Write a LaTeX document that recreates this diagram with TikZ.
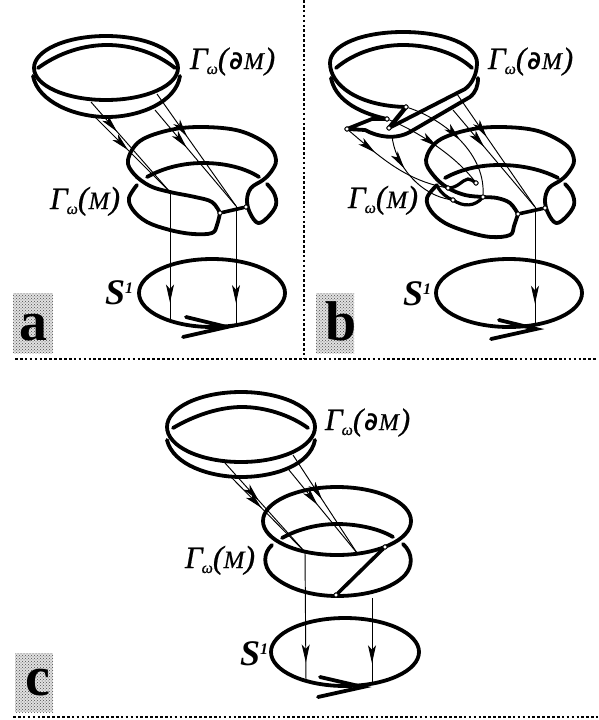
\documentclass[tikz,border=0pt]{standalone}
\usepackage{fontspec}
\setmainfont{Liberation Serif}
\newfontfamily\delfont{DejaVu Sans}
\newfontfamily\gfont{Liberation Serif}[ItalicFeatures={FakeBold=0.6}]
\usetikzlibrary{arrows.meta,decorations.markings,patterns}
\newcommand{\fsz}[1]{\fontsize{#1}{#1}\selectfont}
\newcommand{\gmpart}{\gfont\itshape\fsz{31}Γ\hspace{-1pt}\raisebox{-5pt}{\fsz{16}ω}}
\newcommand{\gbd}{{\gmpart\fsz{31}(\hspace{1pt}{\delfont\bfseries\upshape\fsz{25}∂}\hspace{1pt}{\fsz{24}M}\hspace{1pt})}}
\newcommand{\gm}{{\gmpart\fsz{32}({\fsz{25}M})}}
\newcommand{\sone}{{\bfseries\itshape\fsz{36}S\raisebox{11pt}{\fsz{16}1}}}
\tikzset{
  x=1pt,y=-1pt,
  ring/.style={line width=3.8pt,line cap=round,line join=round},
  bar/.style={line width=3.6pt,line cap=round},
  ray/.style={line width=0.95pt},
  headat/.style={postaction={decorate},decoration={markings,
    mark=at position #1 with {\arrow{Stealth[length=18pt,width=8pt,inset=4.5pt]}}}},
  dot/.style={circle,draw,fill=white,line width=0.9pt,inner sep=0pt,minimum size=4.2pt},
  lab/.style={anchor=base west,inner sep=0pt,outer sep=0pt},
  dotline/.style={line width=2.8pt,dash pattern=on 2.6pt off 2.3pt},
  chip/.style={fill=black!12,postaction={pattern=crosshatch dots,pattern color=black!70},draw=none},
  letter/.style={anchor=base west,inner sep=0pt,font=\bfseries\fsz{56}},
}
\begin{document}
\begin{tikzpicture}
\useasboundingbox (0,0) rectangle (598,720);
\fill[white] (0,0) rectangle (598,720);
% separators
\coordinate (vt) at (304,0); \coordinate (vb) at (304,358);
\coordinate (ha) at (15,359); \coordinate (hb) at (598,359);
\coordinate (ka) at (13,717); \coordinate (kb) at (598,717);
\draw[dotline] (vt) -- (vb);
\draw[dotline] (ha) -- (hb);
\draw[dotline] (ka) -- (kb);

% ---------- panel a
\fill[chip] (13,293) rectangle (53,353);
\node[letter] (la) at (19,340) {a};
\draw[ring] (106,68) ellipse [x radius=72pt,y radius=32pt];
\draw[ring] (33,76) .. controls (38,102) and (75,117) .. (107,117) .. controls (140,117) and (176,102) .. (180,76);
\draw[ring] (38,68) .. controls (60,52) and (85,45) .. (107,45) .. controls (130,45) and (155,52) .. (175,68);
\node[lab] (ta1) at (190,69) {\gbd};
\node[lab] (ta2) at (50,209) {\gm};
\node[lab] (ta3) at (105,304) {\sone};
\draw[ring] (147,177) .. controls (165,167) and (185,163) .. (203,163) .. controls (225,163) and (245,168) .. (259,177);
\node[dot] (ae) at (220,213) {};
\node[dot] (af) at (246,207) {};
\draw[ring] plot[smooth,tension=.6] coordinates {(220,213) (212,202) (195,197) (170,192) (150,186) (134,174) (128,160) (140,141) (170,130) (203,127) (240,131) (268,145) (276,160) (271,172) (263,180) (251,188) (247,200) (250,213) (258,223) (268,217) (276,205) (274,193) (267,184)};
\draw[ring] plot[smooth,tension=.6] coordinates {(220,213) (217,225) (212,233) (193,234) (170,230) (147,222) (133,210) (129,198) (137,185)};
\draw[bar] (ae) -- (af);
\node[dot] at (ae) {}; \node[dot] at (af) {};
\coordinate (aJ) at (170,192); \coordinate (aK) at (236,206);
\coordinate (as1) at (91,102); \coordinate (as2) at (95,117);
\coordinate (as3) at (157,94); \coordinate (as4) at (155,110);
\coordinate (aL) at (170,322); \coordinate (aM) at (236,323);
\draw[ray,headat=.33] (as1) -- (aJ);
\draw[ray,headat=.44] (as2) -- (aJ);
\draw[ray,headat=.38] (as3) -- (aK);
\draw[ray,headat=.39] (as4) -- (aK);
\draw[ray,headat=.85] (aJ) -- (aL);
\draw[ray,headat=.83] (aK) -- (aM);
\draw[ring] (212,293) ellipse [x radius=73pt,y radius=34pt];
\draw[line width=3.8pt,line cap=round,line join=miter] (186,317) -- (227,327) -- (183,337);

% ---------- panel b
\fill[chip] (316,293) rectangle (354,353);
\node[letter] (lb) at (325,340) {b};
\node[lab] (tb1) at (488,69) {\gbd};
\node[lab] (tb2) at (348,208) {\gm};
\node[lab] (tb3) at (403,305) {\sone};
\node[dot] (n1) at (406,107) {};
\node[dot] (n2) at (387,119) {};
\node[dot] (n3) at (389,128) {};
\node[dot] (n4) at (347,129) {};
\draw[ring] (n3.center) -- (465,89) .. controls (472,84) and (477,74) .. (477,63) .. controls (477,45) and (445,32) .. (403,32) .. controls (362,32) and (330,45) .. (330,63) .. controls (330,85) and (358,106) .. (406,107);
\draw[line width=4.4pt,line cap=round] (n1.center) -- (n3.center);
\draw[ring] (331,78) .. controls (335,98) and (355,112) .. (n2.center);
\draw[ring] (n2.center) -- (372,119) -- (n4.center) -- (365,130) .. controls (378,137) and (395,140) .. (410,132) -- (470,97) .. controls (476,92) and (478,86) .. (478,78);
\draw[ring] (336,68) .. controls (355,52) and (380,45) .. (403,45) .. controls (428,45) and (455,52) .. (472,68);
\node[dot] (ma) at (476,183) {};
\node[dot] (mb) at (448,188) {};
\node[dot] (mc) at (453,200) {};
\node[dot] (md) at (483,197) {};
\node[dot] (me) at (518,214) {};
\node[dot] (mf) at (545,208) {};
\draw[ring] (445,178) .. controls (463,168) and (483,165) .. (500,165) .. controls (522,165) and (543,170) .. (558,178);
\draw[ring] plot[smooth,tension=.6] coordinates {(518,214) (510,203) (497,198) (483,197) (465,195) (448,188) (434,176) (426,160) (438,141) (468,130) (501,127) (538,131) (566,145) (574,160) (569,172) (561,180) (549,188) (545,200) (548,213) (556,223) (566,217) (574,205) (572,193) (565,184)};
\draw[ring] plot[smooth,tension=.6] coordinates {(518,214) (514,226) (510,235) (491,237) (468,232) (445,223) (431,211) (427,198) (437,185)};
\draw[line width=3.2pt,line cap=round] (437,186) .. controls (441,193) and (447,198) .. (mc.center) .. controls (463,207) and (475,207) .. (md.center);
\draw[line width=3.2pt,line cap=round] (mb.center) .. controls (458,188) and (462,180) .. (468,179) .. controls (471,179) and (473,181) .. (ma.center);
\draw[bar] (me) -- (mf);
\foreach \p in {n1,n2,n3,n4,ma,mb,mc,md,me,mf} {\node[dot] at (\p) {};}
\coordinate (bK) at (535,207); \coordinate (bM) at (535,325);
\coordinate (bs3) at (457,94); \coordinate (bs4) at (453,110);
\coordinate (bs5) at (392,136);
\draw[ray,headat=.38] (bs3) -- (bK);
\draw[ray,headat=.38] (bs4) -- (bK);
\draw[ray,headat=.82] (bK) -- (bM);
\draw[ray,headat=.30] (n4) .. controls (380,157) and (405,180) .. (mb);
\draw[ray,headat=.38] (bs5) .. controls (395,165) and (420,195) .. (mc);
\draw[ray,headat=.52] (n2) .. controls (415,130) and (455,155) .. (ma);
\draw[ray,headat=.50] (n1) .. controls (440,118) and (485,150) .. (md);
\draw[ring] (509,293) ellipse [x radius=73pt,y radius=34pt];
\draw[line width=3.8pt,line cap=round,line join=miter] (499,320) -- (536,329) -- (491,339);

% ---------- panel c
\fill[chip] (15,653) rectangle (53,712);
\node[letter] (lc) at (25,695) {c};
\node[lab] (tc1) at (325,430) {\gbd};
\node[lab] (tc2) at (185,568) {\gm};
\node[lab] (tc3) at (240,665) {\sone};
\draw[ring] (241,427) ellipse [x radius=74pt,y radius=35pt];
\draw[ring] (167,440) .. controls (173,465) and (210,477) .. (241,477) .. controls (275,477) and (310,465) .. (315,440);
\draw[ring] (173,428) .. controls (195,415) and (220,407) .. (242,407) .. controls (265,407) and (290,415) .. (308,428);
\draw[ring] (337,521) ellipse [x radius=74pt,y radius=34pt];
\draw[ring] (282,538) .. controls (298,529) and (318,524) .. (337,524) .. controls (358,524) and (380,529) .. (393,537);
\draw[ring] (272,545) .. controls (263,553) and (263,566) .. (272,575) .. controls (287,589) and (312,596) .. (337,596) .. controls (365,596) and (392,589) .. (405,575) .. controls (413,566) and (413,553) .. (403,544);
\node[dot] (cp) at (385,547) {};
\node[dot] (cq) at (336,595) {};
\draw[bar] (cp) -- (cq);
\node[dot] at (cp) {}; \node[dot] at (cq) {};
\coordinate (cJ) at (305,552); \coordinate (cK) at (357,553);
\coordinate (cs1) at (225,463); \coordinate (cs2) at (230,476);
\coordinate (cs3) at (293,455); \coordinate (cs4) at (289,470);
\coordinate (cL) at (306,682); \coordinate (cT) at (372,598); \coordinate (cU) at (372,685);
\draw[ray,headat=.42] (cs1) -- (cJ);
\draw[ray,headat=.42] (cs2) -- (cJ);
\draw[ray,headat=.45] (cs3) -- (cK);
\draw[ray,headat=.42] (cs4) -- (cK);
\draw[ray,headat=.85] (cJ) -- (cL);
\draw[ray,headat=.75] (cT) -- (cU);
\draw[ring] (345,652) ellipse [x radius=74pt,y radius=34pt];
\draw[line width=3.8pt,line cap=round,line join=miter] (320,677) -- (363,687) -- (318,697);
\end{tikzpicture}
\end{document}
